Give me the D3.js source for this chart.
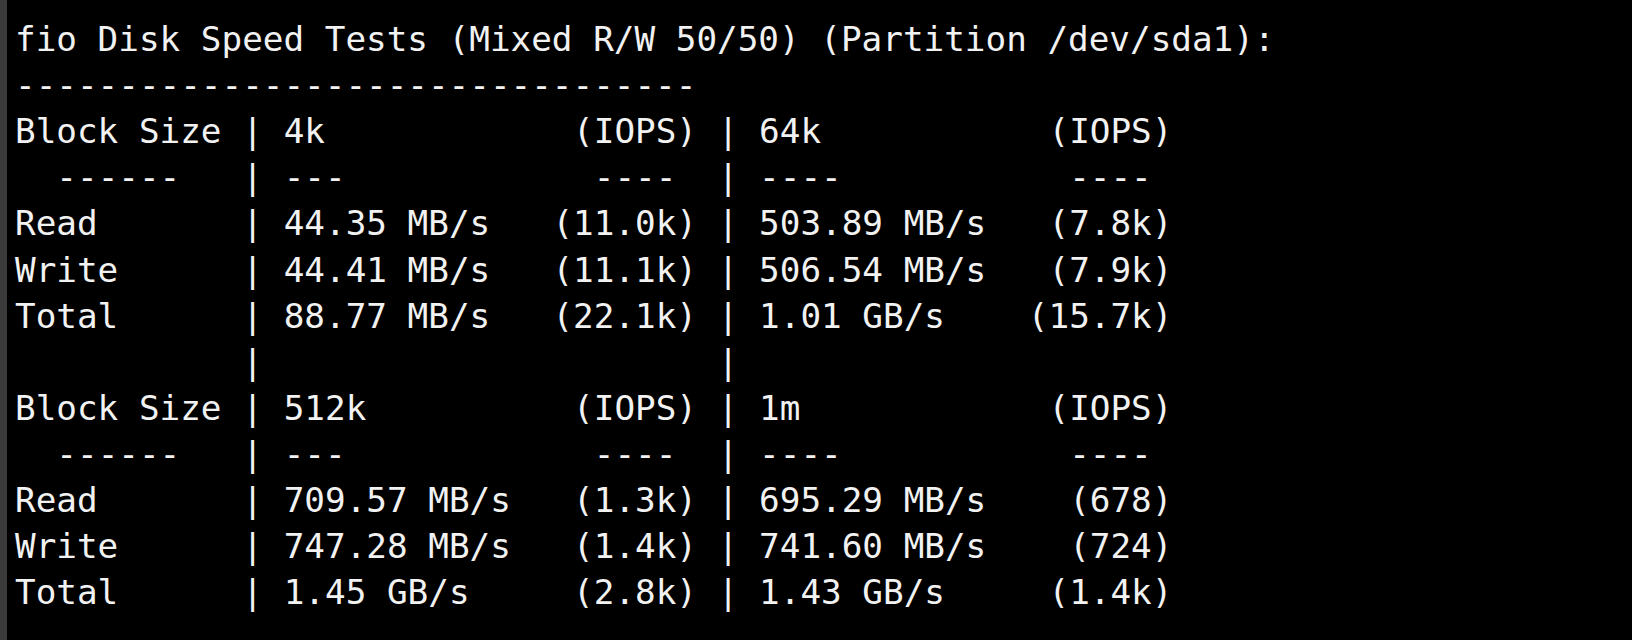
<!DOCTYPE html>
<html><head><meta charset="utf-8">
<script src="https://cdn.jsdelivr.net/npm/d3@7"></script>
<style>html,body{margin:0;background:#000;overflow:hidden}</style>
</head><body><svg id="c" width="1632" height="640"></svg>
<script>
const title = "fio Disk Speed Tests (Mixed R/W 50/50) (Partition /dev/sda1):";
const blockSizes = [["4k","64k"],["512k","1m"]];
const rowLabels = ["Read","Write","Total"];
const speeds = [
  [["44.35 MB/s","503.89 MB/s"],["44.41 MB/s","506.54 MB/s"],["88.77 MB/s","1.01 GB/s"]],
  [["709.57 MB/s","695.29 MB/s"],["747.28 MB/s","741.60 MB/s"],["1.45 GB/s","1.43 GB/s"]]
];
const iops = [
  [["(11.0k)","(7.8k)"],["(11.1k)","(7.9k)"],["(22.1k)","(15.7k)"]],
  [["(1.3k)","(678)"],["(1.4k)","(724)"],["(2.8k)","(1.4k)"]]
];

const lines = [];
lines.push([[0,title]]);
lines.push([[0,"-".repeat(33)]]);
blockSizes.forEach((bs,g)=>{
  if(g>0) lines.push([[11,"|"],[34,"|"]]);
  lines.push([[0,"Block Size"],[11,"|"],[13,bs[0]],[27,"(IOPS)"],[34,"|"],[36,bs[1]],[50,"(IOPS)"]]);
  lines.push([[2,"------"],[11,"|"],[13,"---"],[28,"----"],[34,"|"],[36,"----"],[51,"----"]]);
  rowLabels.forEach((lab,i)=>{
    lines.push([[0,lab],[11,"|"],[13,speeds[g][i][0]],[33-iops[g][i][0].length,iops[g][i][0]],
                [34,"|"],[36,speeds[g][i][1]],[56-iops[g][i][1].length,iops[g][i][1]]]);
  });
});

const svg = d3.select("#c");
svg.append("rect").attr("x",0).attr("y",0).attr("width",1632).attr("height",640).attr("fill","#000");
svg.append("rect").attr("x",0).attr("y",0).attr("width",7).attr("height",640).attr("fill","#3a3a3a");
const x = d3.scaleLinear().domain([0,1]).range([15,15+20.67]);
const y = d3.scaleLinear().domain([0,1]).range([51,51+46.1]);
const g = svg.append("g").attr("font-family","'DejaVu Sans Mono', monospace").attr("font-size",34.3).attr("fill","#f2f2f2");
lines.forEach((segs,r)=>{
  segs.forEach(([c,t])=>{
    g.append("text").attr("x",x(c)).attr("y",y(r)).attr("xml:space","preserve").text(t);
  });
});
</script></body></html>
